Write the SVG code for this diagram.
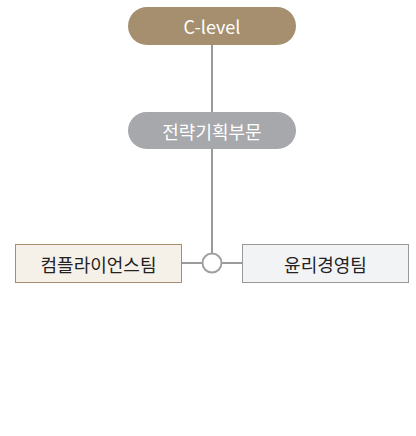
<svg xmlns="http://www.w3.org/2000/svg" width="416" height="436" viewBox="0 0 416 436">
<style>
text{font-family:"Noto Sans CJK KR","Noto Sans",sans-serif;text-anchor:middle;dominant-baseline:central}
.pt{fill:#fff;font-size:18px}
.bt{fill:#222;font-size:18px}
.ln{stroke:#7a7a7a;stroke-width:1.5;fill:none}
</style>
<rect width="416" height="436" fill="#fff"/>
<g id="connectors">
<line class="ln" x1="212" y1="45" x2="212" y2="112"/>
<line class="ln" x1="212" y1="149" x2="212" y2="253"/>
<line class="ln" x1="181" y1="263" x2="202" y2="263"/>
<line class="ln" x1="222" y1="263" x2="243" y2="263"/>
<circle cx="212" cy="263" r="9.5" fill="#fff" stroke="#a0a0a0" stroke-width="2"/>
</g>
<g id="clevel">
<rect x="128" y="7" width="168" height="38" rx="19" fill="#a58f6e"/>
<text class="pt" x="212" y="26">C-level</text>
</g>
<g id="strategy">
<rect x="128" y="112" width="168" height="37" rx="18.5" fill="#a7a8ab"/>
<text class="pt" x="212" y="130.5">전략기획부문</text>
</g>
<g id="compliance">
<rect x="15.5" y="244.5" width="166" height="38" fill="#f5f1e8" stroke="#a58f6e"/>
<text class="bt" x="98.5" y="263.5">컴플라이언스팀</text>
</g>
<g id="ethics">
<rect x="242.5" y="244.5" width="166" height="38" fill="#f2f3f5" stroke="#999"/>
<text class="bt" x="325.5" y="263.5">윤리경영팀</text>
</g>
</svg>
